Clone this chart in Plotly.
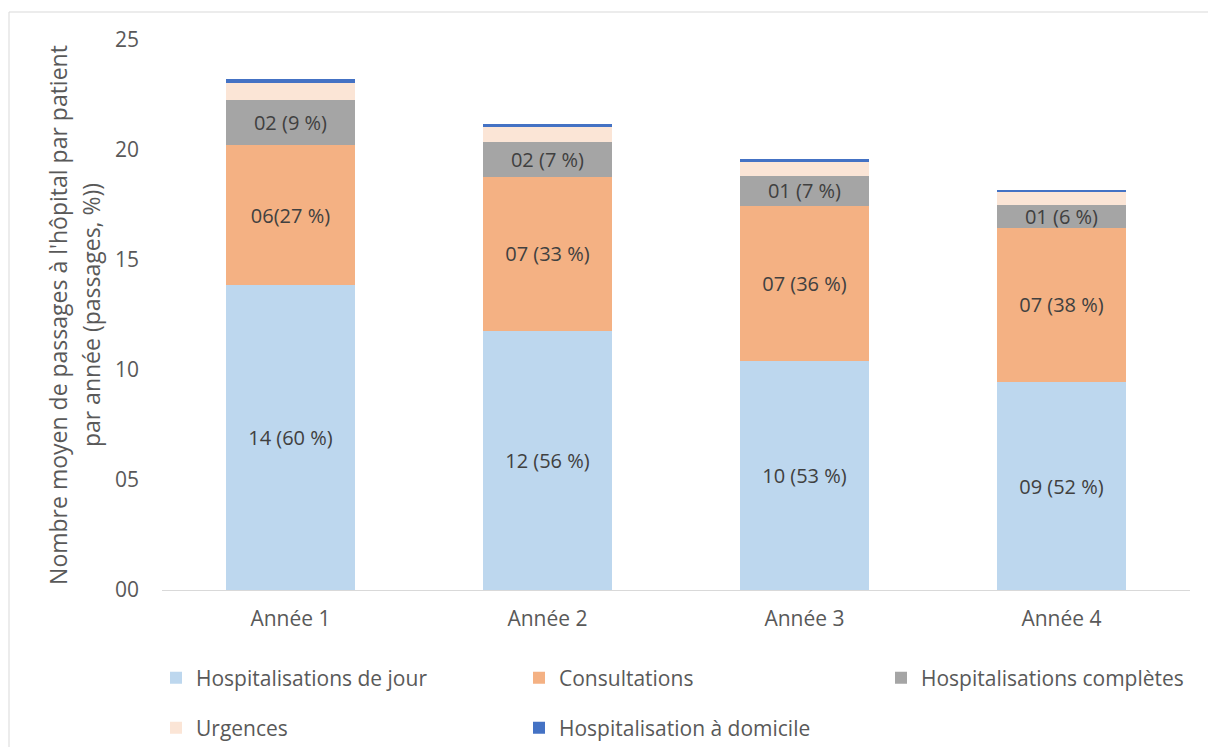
import plotly.graph_objects as go

categories = ["Année 1", "Année 2", "Année 3", "Année 4"]

series_names = [
    "Hospitalisations de jour",
    "Consultations",
    "Hospitalisations complètes",
    "Urgences",
    "Hospitalisation à domicile",
]

hdj = [13.86, 11.77, 10.41, 9.45]
consultations = [6.36, 7.02, 7.06, 7.02]
completes = [2.05, 1.57, 1.36, 1.03]
urgences = [0.76, 0.67, 0.64, 0.58]
had = [0.20, 0.15, 0.11, 0.12]

hdj_labels = ["14 (60 %)", "12 (56 %)", "10 (53 %)", "09 (52 %)"]
consult_labels = ["06(27 %)", "07 (33 %)", "07 (36 %)", "07 (38 %)"]
completes_labels = ["02 (9 %)", "02 (7 %)", "01 (7 %)", "01 (6 %)"]
urgences_labels = ["", "", "", ""]
had_labels = ["", "", "", ""]

colors = ["#BDD7EE", "#F4B183", "#A5A5A5", "#FBE5D6", "#4472C4"]
legends = ["legend", "legend", "legend3", "legend2", "legend2"]

FONT = "Open Sans"
TXT = "#404040"
AX = "#595959"

fig = go.Figure()
for name, vals, labels, col, lg in zip(
    series_names,
    [hdj, consultations, completes, urgences, had],
    [hdj_labels, consult_labels, completes_labels, urgences_labels, had_labels],
    colors,
    legends,
):
    fig.add_trace(
        go.Bar(
            name=name,
            x=categories,
            y=vals,
            text=labels,
            textposition="inside",
            insidetextanchor="middle",
            textangle=0,
            constraintext="none",
            textfont=dict(family=FONT, size=20, color=TXT),
            marker=dict(color=col, line=dict(width=0)),
            legend=lg,
            hoverinfo="skip",
        )
    )

legend_common = dict(
    orientation="h",
    xref="container",
    yref="container",
    xanchor="left",
    yanchor="middle",
    entrywidth=318,
    entrywidthmode="pixels",
    font=dict(family=FONT, size=21, color=AX),
    traceorder="normal",
    bgcolor="rgba(0,0,0,0)",
)

fig.update_layout(
    width=1208,
    height=747,
    margin=dict(l=162, r=18, t=40, b=157),
    paper_bgcolor="white",
    plot_bgcolor="white",
    barmode="stack",
    bargap=0.5,
    font=dict(family=FONT, color=AX),
    xaxis=dict(
        showline=True,
        linecolor="#D9D9D9",
        linewidth=1,
        ticks="",
        tickfont=dict(family=FONT, size=21, color=AX),
        ticklabelstandoff=10,
        showgrid=False,
    ),
    yaxis=dict(
        range=[0, 25],
        dtick=5,
        tick0=0,
        tickformat="02d",
        showgrid=False,
        zeroline=False,
        showline=False,
        ticks="",
        tickfont=dict(family=FONT, size=21, color=AX),
        ticklabelstandoff=22,
        title=dict(
            text="<span style='font-size:23px'>Nombre moyen de passages à l'hôpital par patient</span><br>"
                 "<span style='font-size:23px'>par année (passages, %))</span>",
            font=dict(family=FONT, size=26, color=AX),
            standoff=6,
        ),
        automargin=False,
    ),
    legend=dict(legend_common, x=156 / 1208, y=1 - 678 / 747),
    legend3=dict(legend_common, x=(156 + 725) / 1208, y=1 - 678 / 747),
    legend2=dict(legend_common, x=156 / 1208, y=1 - 728 / 747),
    shapes=[
        dict(
            type="rect",
            xref="paper",
            yref="paper",
            x0=(9 - 162) / 1028,
            x1=1.2,
            y0=-0.5,
            y1=(590 - 12) / 550,
            line=dict(color="#D9D9D9", width=1),
            fillcolor="rgba(0,0,0,0)",
            layer="below",
        )
    ],
)

fig.write_html(
    "out.html",
    config={"displayModeBar": False},
    post_script="document.body.style.margin='0px';",
)
